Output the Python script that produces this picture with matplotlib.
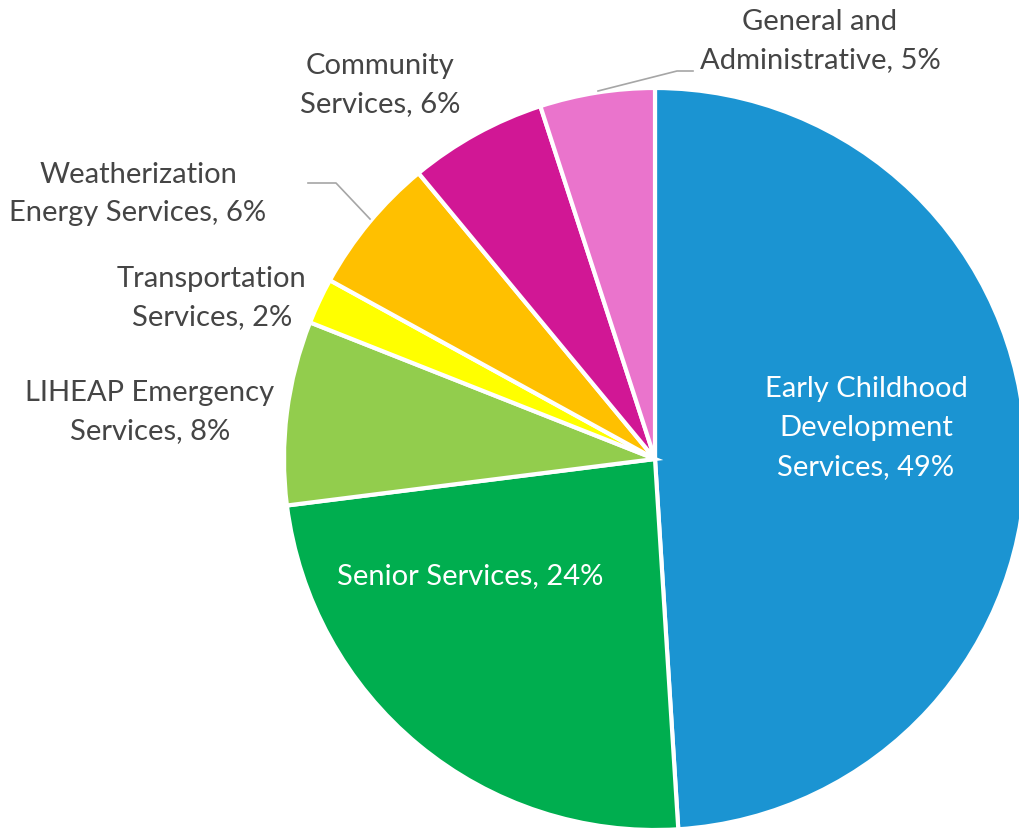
import matplotlib.pyplot as plt

# Dados do gráfico
categorias = ["Early Childhood\nDevelopment\nServices, 49%",
              "Senior Services, 24%",
              "LIHEAP Emergency\nServices, 8%",
              "Transportation\nServices, 2%",
              "Weatherization\nEnergy Services, 6%",
              "Community\nServices, 6%",
              "General and\nAdministrative, 5%"]
valores = [49, 24, 8, 2, 6, 6, 5]
cores = ["#1B94D2", "#00AE4F", "#92CD4D", "#FFFF00", "#FFC000", "#D11795", "#EA74CC"]

W, H = 1019, 833
plt.rcParams['font.family'] = ['Lato', 'DejaVu Sans']

fig = plt.figure(figsize=(W / 100, H / 100), dpi=100)
ax = fig.add_axes([0, 0, 1, 1])

cx, cy, r = 655, H - 459, 371
ax.pie(valores, colors=cores, startangle=90, counterclock=False,
       center=(cx, cy), radius=r, frame=True,
       wedgeprops=dict(edgecolor="white", linewidth=3))
ax.set_xlim(0, W)
ax.set_ylim(0, H)
ax.set_aspect('equal')
ax.axis('off')

# Posição dos rótulos (pixels, origem no topo)
pos = [(866, 428), (470, 576), (150, 412), (212, 298), (138, 194), (380, 85), (820, 41)]
cor_txt = ["white", "white", "#454545", "#454545", "#454545", "#454545", "#454545"]

for texto, (x, y), c in zip(categorias, pos, cor_txt):
    ax.text(x, H - y, texto, ha="center", va="center", color=c,
            fontsize=21, linespacing=1.6)

# Linhas de chamada
ax.plot([598, 677, 693], [H - 91, H - 71, H - 71], color="#A6A6A6", linewidth=1.2)
ax.plot([308, 336, 370], [H - 183, H - 183, H - 219], color="#A6A6A6", linewidth=1.2)

fig.savefig("out.png", dpi=100)
